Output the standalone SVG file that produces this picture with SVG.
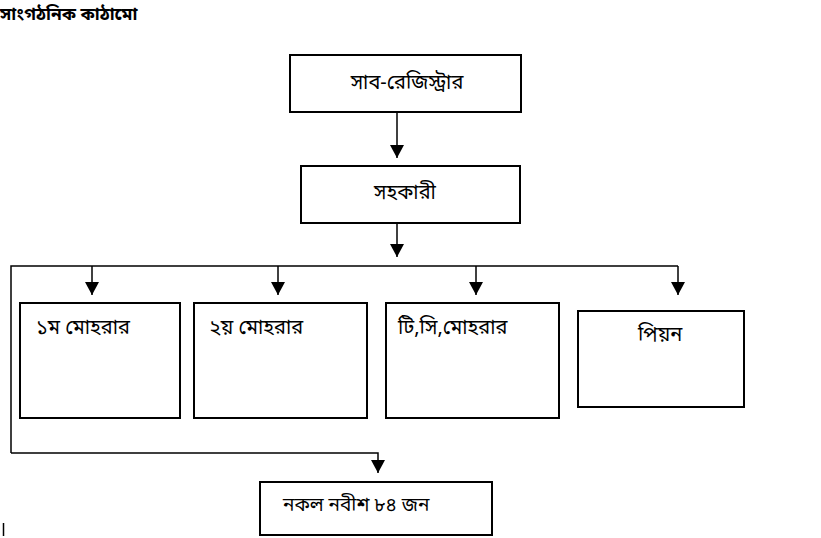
<svg xmlns="http://www.w3.org/2000/svg" width="821" height="538" viewBox="0 0 821 538">
<style>
.box{fill:#fff;stroke:#000;stroke-width:2}
.ln{fill:none;stroke:#000;stroke-width:1.5}
.t{font-family:"Noto Sans Bengali","Noto Serif Bengali","Lohit Bengali","FreeSerif","Noto Sans",sans-serif;font-size:20px;fill:#000}
.title{font-weight:bold;font-size:17.5px}
.small{font-size:19px}
</style>
<defs>
<marker id="ah" markerWidth="13" markerHeight="14" viewBox="0 0 13 14" refX="13" refY="7" orient="auto" markerUnits="userSpaceOnUse">
<path d="M0,0 L13,7 L0,14 Z" fill="#000"/>
</marker>
</defs>
<rect width="821" height="538" fill="#fff"/>
<text class="t title" x="0" y="20">সাংগঠনিক কাঠামো</text>
<g id="connectors">
<line class="ln" x1="397" y1="112" x2="397" y2="158" marker-end="url(#ah)"/>
<line class="ln" x1="397" y1="223" x2="397" y2="257" marker-end="url(#ah)"/>
<polyline class="ln" points="11,453 11,266 678,266"/>
<line class="ln" x1="92" y1="266" x2="92" y2="295" marker-end="url(#ah)"/>
<line class="ln" x1="278" y1="266" x2="278" y2="295" marker-end="url(#ah)"/>
<line class="ln" x1="476" y1="266" x2="476" y2="295" marker-end="url(#ah)"/>
<line class="ln" x1="678" y1="266" x2="678" y2="295" marker-end="url(#ah)"/>
<polyline class="ln" points="11,453 378,453 378,473" marker-end="url(#ah)"/>
</g>
<g id="n-subregistrar">
<rect class="box" x="290" y="55" width="231" height="57"/>
<text class="t" x="407" y="89" text-anchor="middle">সাব-রেজিস্ট্রার</text>
</g>
<g id="n-sahakari">
<rect class="box" x="301" y="166" width="219" height="57"/>
<text class="t" x="405" y="199" text-anchor="middle">সহকারী</text>
</g>
<g id="n-moharar1">
<rect class="box" x="20" y="303" width="160" height="115"/>
<text class="t" x="36" y="334">১ম মোহরার</text>
</g>
<g id="n-moharar2">
<rect class="box" x="194" y="303" width="173" height="115"/>
<text class="t" x="209" y="334">২য় মোহরার</text>
</g>
<g id="n-tcmoharar">
<rect class="box" x="386" y="303" width="173" height="115"/>
<text class="t" x="398" y="334">টি,সি,মোহরার</text>
</g>
<g id="n-peon">
<rect class="box" x="578" y="311" width="166" height="96"/>
<text class="t" x="638" y="341">পিয়ন</text>
</g>
<g id="n-nakal">
<rect class="box" x="260" y="482" width="232" height="53"/>
<text class="t small" x="283" y="511">নকল নবীশ ৮৪ জন</text>
</g>
<line x1="3.5" y1="523" x2="3.5" y2="536" stroke="#000" stroke-width="1.5"/>
</svg>
